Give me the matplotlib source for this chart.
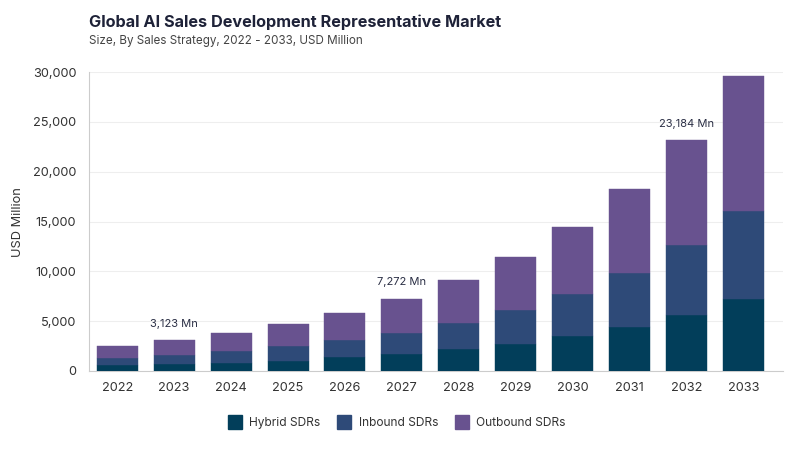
import matplotlib
matplotlib.use("Agg")
import matplotlib.pyplot as plt
import numpy as np
from matplotlib.ticker import FuncFormatter
from matplotlib.lines import Line2D

years = ["2022", "2023", "2024", "2025", "2026", "2027", "2028", "2029", "2030", "2031", "2032", "2033"]
hybrid = [560, 660, 850, 1050, 1360, 1660, 2200, 2700, 3470, 4370, 5580, 7180]
inbound = [730, 900, 1120, 1420, 1710, 2150, 2580, 3400, 4230, 5440, 7030, 8930]
outbound = [1250, 1563, 1850, 2250, 2790, 3462, 4320, 5350, 6720, 8460, 10574, 13530]
series_names = ["Hybrid SDRs", "Inbound SDRs", "Outbound SDRs"]
colors = ["#023E5A", "#2E4A78", "#68528F"]
annot_years = ["2023", "2027", "2032"]
annot_texts = ["3,123 Mn", "7,272 Mn", "23,184 Mn"]

plt.rcParams['font.family'] = ['Inter', 'DejaVu Sans']

fig = plt.figure(figsize=(8, 4.5), dpi=100)
ax = fig.add_axes([0.111, 0.1756, 0.868, 0.664])

x = np.arange(len(years))
w = 0.72
bottom = np.zeros(len(years))
for vals, c, name in zip([hybrid, inbound, outbound], colors, series_names):
    ax.bar(x, vals, width=w, bottom=bottom, color=c, label=name, zorder=3,
           edgecolor=c, linewidth=0.3)
    bottom = bottom + np.array(vals)

for yr, txt in zip(annot_years, annot_texts):
    i = years.index(yr)
    ax.annotate(txt, (x[i], bottom[i]), xytext=(0, 8), textcoords="offset points",
                ha="center", va="bottom", fontsize=8, color="#2b2f45")

ax.set_xlim(-0.5, 11.7)
ax.set_ylim(0, 30000)
ax.set_yticks(np.arange(0, 30001, 5000))
ax.yaxis.set_major_formatter(FuncFormatter(lambda v, p: f"{int(v):,}"))
ax.set_xticks(x)
ax.set_xticklabels(years)
ax.tick_params(axis='both', length=0, labelsize=9.2, colors="#333333")
ax.tick_params(axis='x', pad=8)
ax.tick_params(axis='y', pad=9)
ax.grid(axis='y', color="#eeeeee", linewidth=0.8, zorder=0)
for s in ["top", "right"]:
    ax.spines[s].set_visible(False)
ax.spines["left"].set_color("#cccccc")
ax.spines["bottom"].set_color("#cccccc")
ax.set_ylabel("USD Million", fontsize=9.2, color="#333333", labelpad=6)

fig.text(0.111, 0.951, "Global AI Sales Development Representative Market", fontsize=11.7,
         fontweight="bold", color="#1e2238", va="center", ha="left")
fig.text(0.111, 0.909, "Size, By Sales Strategy, 2022 - 2033, USD Million", fontsize=8.4,
         color="#444444", va="center", ha="left")

handles = [Line2D([0], [0], marker='s', linestyle='', markersize=10, markerfacecolor=c,
                  markeredgecolor=c) for c in colors]
fig.legend(handles, series_names, loc="center", bbox_to_anchor=(0.493, 0.06), ncol=3,
           frameon=False, fontsize=8.6, handletextpad=0.2, columnspacing=1.0,
           labelcolor="#333333")

fig.savefig("out.png", dpi=100)
